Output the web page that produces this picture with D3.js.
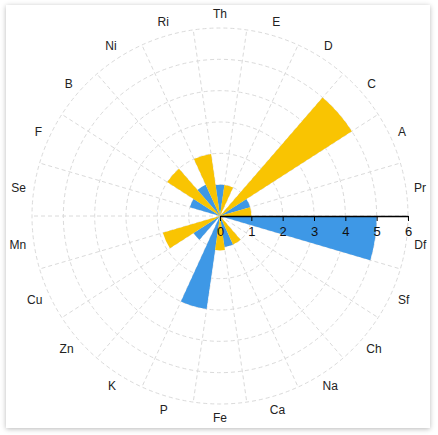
<!DOCTYPE html>
<html>
<head>
<meta charset="utf-8">
<script src="https://cdn.jsdelivr.net/npm/d3@7"></script>
<style>
  body { margin: 0; background: #fff; font-family: "Liberation Sans", Arial, sans-serif; }
  #card {
    position: absolute; left: 6px; top: 5px; width: 424px; height: 423px;
    background: #fff; box-shadow: 0 1px 5px rgba(0,0,0,0.28);
  }
  svg { position: absolute; left: 0; top: 0; }
</style>
</head>
<body>
<div id="card"></div>
<script>
// categories, clockwise starting at the top
var categories = ["Th", "E", "D", "C", "A", "Pr", "Df", "Sf", "Ch", "Na", "Ca",
                  "Fe", "P", "K", "Zn", "Cu", "Mn", "Se", "F", "B", "Ni", "Ri"];

// blue series (every other category)
var blueValues = [1.0, null, 0, null, 1.0, null, 5.0, null, 0, null, 1.0,
                  null, 3.0, null, 1.0, null, 0, null, 1.0, null, 1.1, null];

// yellow series (the other categories)
var yellowValues = [null, 1.0, null, 5.0, null, 1.0, null, 0, null, 1.0, null,
                    1.1, null, 0, null, 1.9, null, 0, null, 2.0, null, 2.0];

var radialTicks = [0, 1, 2, 3, 4, 5, 6];

var blue = "#3e98e6";
var yellow = "#f9c402";

var width = 438, height = 435;
var cx = 220, cy = 216, outer = 188;

var svg = d3.select("body")
    .append("svg")
    .attr("width", width)
    .attr("height", height);

var g = svg.append("g").attr("transform", "translate(" + cx + "," + cy + ")");

var step = 2 * Math.PI / categories.length;

var angle = d3.scaleBand()
    .domain(categories)
    .range([-step / 2, 2 * Math.PI - step / 2])
    .padding(0);

var r = d3.scaleLinear()
    .domain([0, 6])
    .range([0, outer]);

// grid circles
g.selectAll("circle.grid")
    .data(radialTicks.filter(function (d) { return d > 0; }))
    .enter()
    .append("circle")
    .attr("class", "grid")
    .attr("r", function (d) { return r(d); })
    .style("fill", "none")
    .style("stroke", "#dadada")
    .style("stroke-dasharray", "4,3");

// spokes at sector boundaries
g.selectAll("line.spoke")
    .data(categories)
    .enter()
    .append("line")
    .attr("class", "spoke")
    .attr("x1", 0).attr("y1", 0)
    .attr("x2", function (d) { return outer * Math.sin(angle(d)); })
    .attr("y2", function (d) { return -outer * Math.cos(angle(d)); })
    .style("stroke", "#dadada")
    .style("stroke-dasharray", "4,3");

// bars
var arc = d3.arc()
    .innerRadius(0)
    .outerRadius(function (d) { return r(d.value); })
    .startAngle(function (d) { return angle(d.cat); })
    .endAngle(function (d) { return angle(d.cat) + angle.bandwidth(); });

function series(values, color) {
    return categories.map(function (c, i) {
        return { cat: c, value: values[i], color: color };
    }).filter(function (d) { return d.value; });
}

var bars = series(blueValues, blue).concat(series(yellowValues, yellow));

g.selectAll("path.bar")
    .data(bars)
    .enter()
    .append("path")
    .attr("class", "bar")
    .attr("d", arc)
    .style("fill", function (d) { return d.color; });

// category labels
var labelR = 196;
g.selectAll("text.cat")
    .data(categories)
    .enter()
    .append("text")
    .attr("class", "cat")
    .text(function (d) { return d; })
    .style("font-size", "12px")
    .style("fill", "#222")
    .attr("text-anchor", "middle")
    .each(function (d) {
        var a = angle(d) + angle.bandwidth() / 2;
        var s = Math.sin(a), c = Math.cos(a);
        var box = this.getBBox();
        var x = labelR * s + box.width / 2 * s;
        var y = -labelR * c - 6 * c;
        d3.select(this).attr("x", x).attr("y", y + 4.3);
    });

// radial axis along the 0 direction
var axis = d3.axisBottom(r)
    .tickValues(radialTicks)
    .tickSize(5)
    .tickSizeOuter(0)
    .tickPadding(6)
    .tickFormat(d3.format("d"));

var ax = g.append("g").call(axis);
ax.select(".domain").style("stroke", "#000").style("stroke-width", 1.3);
ax.selectAll(".tick line").style("stroke", "#000");
ax.selectAll(".tick text")
    .style("font-size", "13px")
    .style("font-family", "Liberation Sans, Arial, sans-serif")
    .style("fill", "#111");
</script>
</body>
</html>
